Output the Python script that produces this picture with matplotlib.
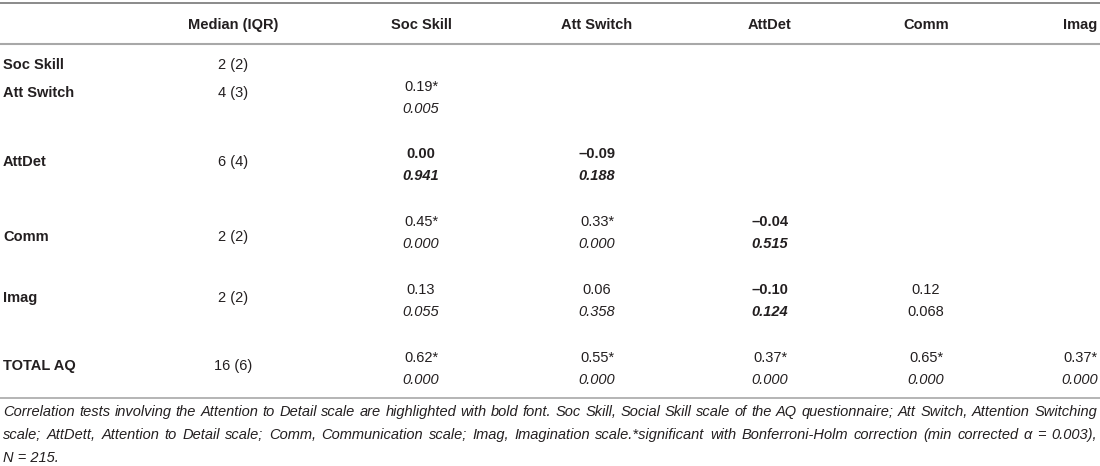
import matplotlib.pyplot as plt

plt.rcParams['font.family'] = ['Liberation Sans', 'DejaVu Sans']

# Table content
COLUMNS = ['Median (IQR)', 'Soc Skill', 'Att Switch', 'AttDet', 'Comm', 'Imag']
ROWS = ['Soc Skill', 'Att Switch', 'AttDet', 'Comm', 'Imag', 'TOTAL AQ']
MEDIAN_IQR = ['2 (2)', '4 (3)', '6 (4)', '2 (2)', '2 (2)', '16 (6)']

# lower triangle: correlation and p value per row, one entry per scale column
RHO = [
    [],
    [0.19],
    [0.00, -0.09],
    [0.45, 0.33, -0.04],
    [0.13, 0.06, -0.10, 0.12],
    [0.62, 0.55, 0.37, 0.65, 0.37],
]
P_VALUES = [
    [],
    [0.005],
    [0.941, 0.188],
    [0.000, 0.000, 0.515],
    [0.055, 0.358, 0.124, 0.068],
    [0.000, 0.000, 0.000, 0.000, 0.000],
]
SIGNIFICANT = [
    [],
    [True],
    [False, False],
    [True, True, False],
    [False, False, False, False],
    [True, True, True, True, True],
]

FOOTNOTE = [
    'Correlation tests involving the Attention to Detail scale are highlighted with bold font. '
    'Soc Skill, Social Skill scale of the AQ questionnaire; Att Switch, Attention Switching',
    'scale; AttDett, Attention to Detail scale; Comm, Communication scale; Imag, Imagination '
    'scale.*significant with Bonferroni-Holm correction (min corrected \u03b1 = 0.003),',
    'N = 215.',
]

TEXT_COLOR = '#231f20'
FS = 10.5

# layout (pixels)
COL_X = [233, 421, 597, 770, 926, 1080]
ROW_Y = [65, 93, 162, 237, 298, 366]
CELL_Y = [None, 87, 154, 222, 290, 358]
P_OFFSET = 22


def fmt_rho(v):
    s = f'{v:.2f}'
    return s.replace('-', '\u2013')


def justify(fig, ax, y, text, x0, x1, **kw):
    words = text.split(' ')
    renderer = fig.canvas.get_renderer()
    objs, widths = [], []
    for w in words:
        t = ax.text(0, y, w, va='center', ha='left', **kw)
        widths.append(t.get_window_extent(renderer=renderer).width)
        objs.append(t)
    gap = (x1 - x0 - sum(widths)) / max(len(words) - 1, 1)
    x = x0
    for t, w in zip(objs, widths):
        t.set_x(x)
        x += w + gap


fig = plt.figure(figsize=(11, 4.66), dpi=100)
ax = fig.add_axes([0, 0, 1, 1])
ax.set_xlim(0, 1100)
ax.set_ylim(466, 0)
ax.axis('off')

# rules
ax.plot([0, 1100], [3, 3], color='#8a8a8a', lw=1.4)
ax.plot([0, 1100], [44, 44], color='#a8a8a8', lw=1.5)
ax.plot([0, 1100], [398, 398], color='#a8a8a8', lw=1.2)

# header
for x, name in zip(COL_X, COLUMNS):
    ax.text(x, 25, name, ha='center', va='center', fontsize=FS,
            fontweight='bold', color=TEXT_COLOR)

# row labels and medians
for i, (name, med) in enumerate(zip(ROWS, MEDIAN_IQR)):
    ax.text(3, ROW_Y[i], name, ha='left', va='center', fontsize=FS,
            fontweight='bold', color=TEXT_COLOR)
    ax.text(COL_X[0], ROW_Y[i], med, ha='center', va='center', fontsize=FS,
            color=TEXT_COLOR)

# correlation cells
attdet = 'AttDet'
for i, row in enumerate(ROWS):
    for j, (r, p) in enumerate(zip(RHO[i], P_VALUES[i])):
        col = COLUMNS[j + 1]
        bold = row == attdet or (col == attdet and row != 'TOTAL AQ')
        weight = 'bold' if bold else 'normal'
        label = fmt_rho(r) + ('*' if SIGNIFICANT[i][j] else '')
        x = COL_X[j + 1]
        ax.text(x, CELL_Y[i], label, ha='center', va='center', fontsize=FS,
                fontweight=weight, color=TEXT_COLOR)
        style = 'normal' if (row == 'Imag' and col == 'Comm') else 'italic'
        ax.text(x, CELL_Y[i] + P_OFFSET, f'{p:.3f}', ha='center', va='center',
                fontsize=FS, fontweight=weight, fontstyle=style, color=TEXT_COLOR)

# footnote
foot_y = [412, 435, 458]
for k, line in enumerate(FOOTNOTE):
    if k < len(FOOTNOTE) - 1:
        justify(fig, ax, foot_y[k], line, 3, 1097, fontsize=FS, fontstyle='italic',
                color=TEXT_COLOR)
    else:
        ax.text(3, foot_y[k], line, ha='left', va='center', fontsize=FS,
                fontstyle='italic', color=TEXT_COLOR)

fig.savefig('out.png', dpi=100)
